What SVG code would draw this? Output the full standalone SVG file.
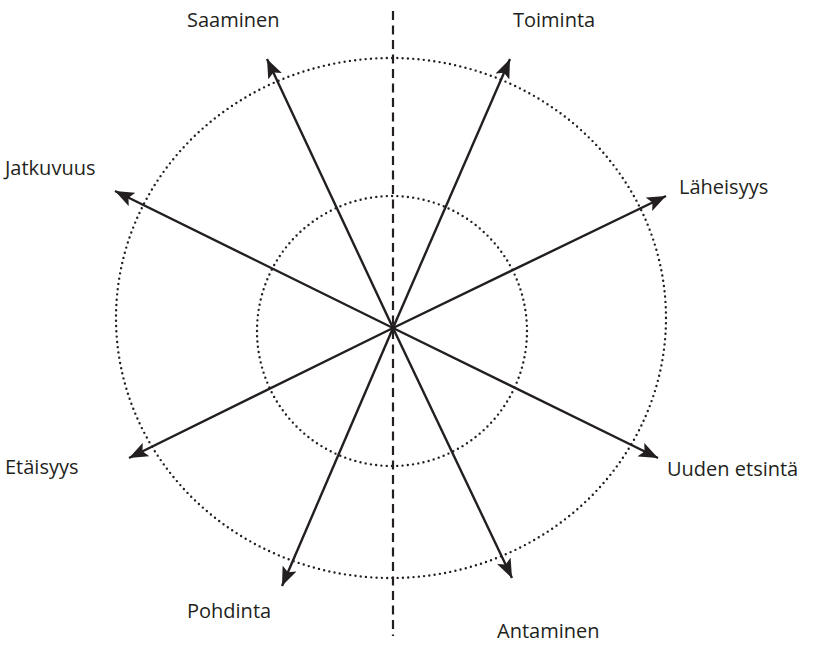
<svg xmlns="http://www.w3.org/2000/svg" width="813" height="645" viewBox="0 0 813 645">
<style>
.lbl{font-family:"Open Sans","Liberation Sans",sans-serif;font-size:20px;fill:#231f20}
.dot{fill:none;stroke:#231f20;stroke-width:2.4;stroke-dasharray:0 5.3;stroke-linecap:round}
.axis{stroke:#231f20;stroke-width:2.2;fill:none}
.arr{stroke:#231f20;stroke-width:2.4;fill:none;marker-end:url(#ah)}
</style>
<defs>
<marker id="ah" markerUnits="userSpaceOnUse" markerWidth="19" markerHeight="15" refX="19" refY="7.5" orient="auto">
<path d="M0,0 L19,7.5 L0,15 L4,7.5 z" fill="#231f20"/>
</marker>
</defs>
<rect width="813" height="645" fill="#fff"/>
<g id="circles">
<ellipse class="dot" cx="391" cy="318" rx="275" ry="260"/>
<circle class="dot" cx="392" cy="331" r="135"/>
</g>
<g id="axis">
<line class="axis" x1="393" y1="11" x2="393" y2="636" stroke-dasharray="9 5.5"/>
</g>
<g id="connectors">
<line class="arr" x1="393" y1="328" x2="267" y2="59"/>
<line class="arr" x1="393" y1="328" x2="510" y2="59"/>
<line class="arr" x1="393" y1="328" x2="115" y2="191"/>
<line class="arr" x1="393" y1="328" x2="666" y2="196"/>
<line class="arr" x1="393" y1="328" x2="129" y2="458"/>
<line class="arr" x1="393" y1="328" x2="658" y2="458"/>
<line class="arr" x1="393" y1="328" x2="282" y2="586"/>
<line class="arr" x1="393" y1="328" x2="512" y2="578"/>
</g>
<g id="saaminen"><text class="lbl" x="187" y="27">Saaminen</text></g>
<g id="toiminta"><text class="lbl" x="513" y="27">Toiminta</text></g>
<g id="jatkuvuus"><text class="lbl" x="5" y="175">Jatkuvuus</text></g>
<g id="laheisyys"><text class="lbl" x="679" y="194">Läheisyys</text></g>
<g id="etaisyys"><text class="lbl" x="5" y="474">Etäisyys</text></g>
<g id="uuden-etsinta"><text class="lbl" x="667" y="476">Uuden etsintä</text></g>
<g id="pohdinta"><text class="lbl" x="187" y="618">Pohdinta</text></g>
<g id="antaminen"><text class="lbl" x="497" y="638">Antaminen</text></g>
</svg>
